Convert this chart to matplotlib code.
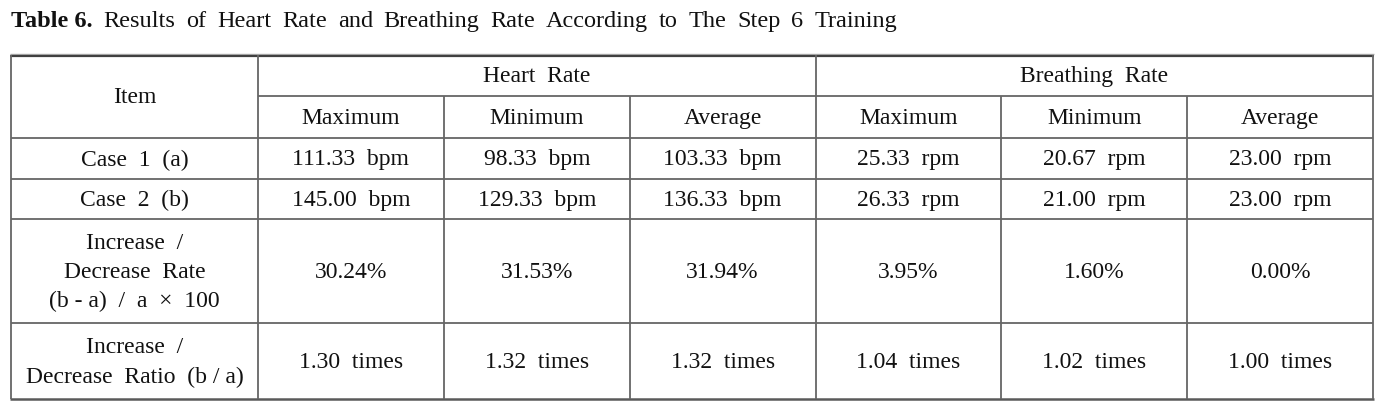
import matplotlib
matplotlib.use("Agg")
import matplotlib.pyplot as plt

# ---- data ----
title_bold = "Table 6."
title_rest = "Results of Heart Rate and Breathing Rate According to The Step 6 Training"
groups = ["Heart  Rate", "Breathing  Rate"]
stats = ["Maximum", "Minimum", "Average"]
row_labels = ["Case  1  (a)", "Case  2  (b)",
              "Increase  /\nDecrease  Rate\n(b - a)  /  a  \u00d7  100",
              "Increase  /\nDecrease  Ratio  (b / a)"]
heart_case1 = [111.33, 98.33, 103.33]
heart_case2 = [145.00, 129.33, 136.33]
breath_case1 = [25.33, 20.67, 23.00]
breath_case2 = [26.33, 21.00, 23.00]
rate_pct = [30.24, 31.53, 31.94, 3.95, 1.60, 0.00]
ratio_times = [1.30, 1.32, 1.32, 1.04, 1.02, 1.00]

# ---- build cell text ----
rows = [
    [f"{v:.2f}  bpm" for v in heart_case1] + [f"{v:.2f}  rpm" for v in breath_case1],
    [f"{v:.2f}  bpm" for v in heart_case2] + [f"{v:.2f}  rpm" for v in breath_case2],
    [f"{v:.2f}%" for v in rate_pct],
    [f"{v:.2f}  times" for v in ratio_times],
]

W, H = 1393, 401
fig = plt.figure(figsize=(W / 100, H / 100), dpi=100)
ax = fig.add_axes([0, 0, 1, 1])
ax.set_xlim(0, W)
ax.set_ylim(H, 0)
ax.axis("off")

FONT = "Liberation Serif"
FS = 17
FS_T = 17.5
TXT = "#111111"
LINE = "#666666"

# layout (pixels)
x_left, x_item, x_right = 11, 258, 1373
col_w = (x_right - x_item) / 6
xs = [x_item + i * col_w for i in range(7)]
y_top, y_h1, y_h2 = 55, 96, 138
y_rows = [138, 179, 219, 323, 399]

# title: words spread to the reference width
title_base = 27
title_end = 897
t = ax.text(11, title_base, title_bold, fontsize=FS_T, fontweight="bold",
            family=FONT, ha="left", va="baseline", color=TXT)
fig.canvas.draw()
renderer = fig.canvas.get_renderer()
bold_end = t.get_window_extent(renderer).x1
words = title_rest.split(" ")
arts = [ax.text(0, title_base, w, fontsize=FS_T, family=FONT, ha="left",
                va="baseline", color=TXT) for w in words]
widths = [a.get_window_extent(renderer).width for a in arts]
start = bold_end + 11
gap = (title_end - start - sum(widths)) / (len(words) - 1)
x = start
for a, w in zip(arts, widths):
    a.set_x(x)
    x += w + gap

# lines
def hline(y, x0, x1, lw=1.3, c=LINE):
    ax.plot([x0, x1], [y, y], color=c, lw=lw, solid_capstyle="butt")

def vline(x, y0, y1, lw=1.3, c=LINE):
    ax.plot([x, x], [y0, y1], color=c, lw=lw, solid_capstyle="butt")

# top double border
hline(y_top - 1.5, x_left - 1, x_right + 1, lw=1.0, c="#b0b0b0")
hline(y_top + 0.5, x_left - 1, x_right + 1, lw=1.6, c="#404040")
hline(y_h1, x_item, x_right)
hline(y_h2, x_left, x_right)
for y in y_rows[1:-1]:
    hline(y, x_left, x_right)
hline(y_rows[-1], x_left - 1, x_right + 1, lw=1.8, c="#5a5a5a")

vline(x_left, y_top, y_rows[-1])
vline(x_right, y_top, y_rows[-1])
vline(x_item, y_top, y_rows[-1])
vline(xs[3], y_top, y_rows[-1])
for i in (1, 2, 4, 5):
    vline(xs[i], y_h1, y_rows[-1])

def ctext(x, y, s):
    ax.text(x, y, s, fontsize=FS, family=FONT, ha="center", va="center",
            color=TXT, linespacing=1.5)

# headers
ctext((x_left + x_item) / 2, (y_top + y_h2) / 2 + 1, "Item")
ctext((xs[0] + xs[3]) / 2, (y_top + y_h1) / 2 + 1, groups[0])
ctext((xs[3] + xs[6]) / 2, (y_top + y_h1) / 2 + 1, groups[1])
for g in range(2):
    for j, s in enumerate(stats):
        k = g * 3 + j
        ctext((xs[k] + xs[k + 1]) / 2, (y_h1 + y_h2) / 2 + 1.5, s)

# body
for r, (lab, vals) in enumerate(zip(row_labels, rows)):
    yc = (y_rows[r] + y_rows[r + 1]) / 2 + 1.5
    ctext((x_left + x_item) / 2, yc, lab)
    for k, s in enumerate(vals):
        ctext((xs[k] + xs[k + 1]) / 2, yc, s)

fig.savefig("out.png", dpi=100, facecolor="white")
